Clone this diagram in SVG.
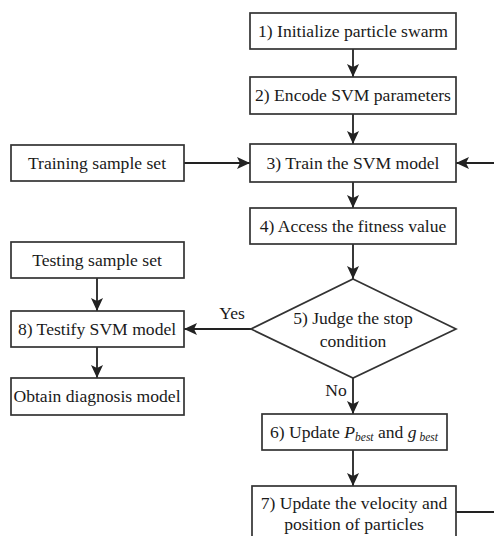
<svg xmlns="http://www.w3.org/2000/svg" width="494" height="536" viewBox="0 0 494 536">
<defs>
<marker id="ah" viewBox="0 0 13 12" refX="13" refY="6" markerWidth="13" markerHeight="12" markerUnits="userSpaceOnUse" orient="auto">
<path d="M0,0 L13,6 L0,12 L3,6 z" fill="#222"/>
</marker>
</defs>
<style>
.box{fill:#fff;stroke:#333;stroke-width:1.7}
.t{font-family:"Liberation Serif","Times New Roman",serif;font-size:17.6px;fill:#1a1a1a;text-anchor:middle}
.c{fill:none;stroke:#222;stroke-width:1.8;marker-end:url(#ah)}
.l{fill:none;stroke:#222;stroke-width:1.8}
</style>
<rect width="494" height="536" fill="#fff"/>
<g id="connectors">
<line class="c" x1="353" y1="49" x2="353" y2="77"/>
<line class="c" x1="353" y1="114" x2="353" y2="144"/>
<line class="c" x1="184" y1="163" x2="250" y2="163"/>
<line class="c" x1="494" y1="163" x2="456" y2="163"/>
<line class="c" x1="353" y1="182" x2="353" y2="208"/>
<line class="c" x1="353" y1="244" x2="353" y2="279"/>
<line class="c" x1="252" y1="329" x2="184" y2="329"/>
<line class="c" x1="97" y1="278" x2="97" y2="311"/>
<line class="c" x1="97" y1="347" x2="97" y2="378"/>
<line class="c" x1="353" y1="378" x2="353" y2="414"/>
<line class="c" x1="353" y1="450" x2="353" y2="486"/>
<line class="l" x1="456" y1="512" x2="494" y2="512"/>
<text class="t" x="232" y="319">Yes</text>
<text class="t" x="336" y="396">No</text>
</g>
<g id="n1"><rect class="box" x="250" y="13" width="206" height="36"/><text class="t" x="353" y="37">1) Initialize particle swarm</text></g>
<g id="n2"><rect class="box" x="250" y="77" width="206" height="37"/><text class="t" x="353" y="101">2) Encode SVM parameters</text></g>
<g id="n3"><rect class="box" x="250" y="144" width="206" height="38"/><text class="t" x="353" y="169">3) Train the SVM model</text></g>
<g id="train"><rect class="box" x="11" y="145" width="173" height="36"/><text class="t" x="97" y="169">Training sample set</text></g>
<g id="n4"><rect class="box" x="250" y="208" width="206" height="36"/><text class="t" x="353" y="232">4) Access the fitness value</text></g>
<g id="n5"><polygon class="box" points="353,279 456,329 353,378 251,329"/><text class="t" x="353" y="324">5) Judge the stop</text><text class="t" x="353" y="347">condition</text></g>
<g id="test"><rect class="box" x="11" y="242" width="173" height="36"/><text class="t" x="97" y="266">Testing sample set</text></g>
<g id="n8"><rect class="box" x="11" y="311" width="173" height="36"/><text class="t" x="97" y="335">8) Testify SVM model</text></g>
<g id="obtain"><rect class="box" x="11" y="378" width="173" height="37"/><text class="t" x="97" y="402">Obtain diagnosis model</text></g>
<g id="n6"><rect class="box" x="262" y="414" width="185" height="36"/><text class="t" x="354" y="438">6) Update <tspan font-style="italic">P</tspan><tspan font-style="italic" font-size="11.5" dy="3">best</tspan><tspan dy="-3"> and </tspan><tspan font-style="italic">g</tspan><tspan font-style="italic" font-size="11.5" dy="3"> best</tspan></text></g>
<g id="n7"><rect class="box" x="252" y="486" width="204" height="56"/><text class="t" x="354" y="509">7) Update the velocity and</text><text class="t" x="354" y="530">position of particles</text></g>
</svg>
